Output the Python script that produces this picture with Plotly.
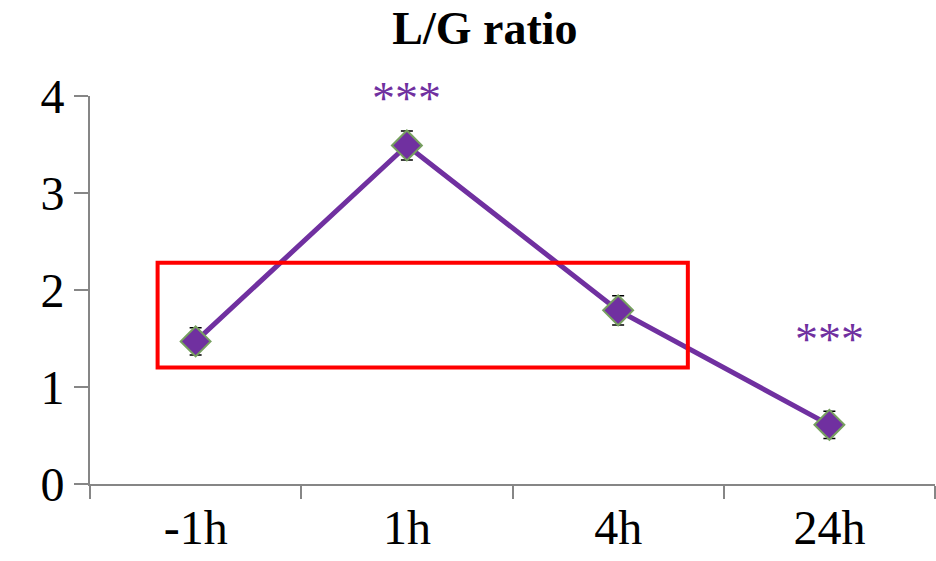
import plotly.graph_objects as go

categories = ["-1h", "1h", "4h", "24h"]
ratio = [1.47, 3.49, 1.79, 0.61]
err = [0.14, 0.15, 0.15, 0.14]
stars = ["", "***", "", "***"]
star_y = [None, 3.97, None, 1.49]
box_x = [-0.18, 2.33]
box_y = [1.2, 2.28]
y_ticks = [0, 1, 2, 3, 4]

PURPLE = "#7030A0"
GREEN = "#77A060"
AXIS = "#868686"
FONT = "Liberation Serif"

W, H = 936, 561

fig = go.Figure()
fig.add_trace(go.Scatter(
    x=categories, y=ratio, mode="lines+markers",
    line=dict(color=PURPLE, width=5),
    marker=dict(symbol="diamond", size=23, color=PURPLE,
                line=dict(color=GREEN, width=2)),
    error_y=dict(type="data", array=err, visible=True,
                 color="black", thickness=1.5, width=6),
    showlegend=False,
))

fig.add_shape(type="rect", xref="x", yref="y",
              x0=box_x[0], x1=box_x[1], y0=box_y[0], y1=box_y[1],
              line=dict(color="#FF0000", width=4), fillcolor="rgba(0,0,0,0)")

for c, s, sy in zip(categories, stars, star_y):
    if s:
        fig.add_annotation(x=c, y=sy, text=s, showarrow=False,
                           xref="x", yref="y", yanchor="middle",
                           font=dict(family=FONT, size=46, color=PURPLE))

fig.update_layout(
    width=W, height=H,
    margin=dict(l=90, r=1, t=96, b=77),
    paper_bgcolor="white", plot_bgcolor="white",
    font=dict(family=FONT, color="black", size=48),
    title=dict(text="<b>L/G ratio</b>", x=485 / W, xref="container",
               y=1 - 28 / H, yref="container", yanchor="middle",
               xanchor="center", font=dict(family=FONT, size=46, color="black")),
)
fig.update_xaxes(
    type="category", range=[-0.5, 3.5], tickson="boundaries",
    ticks="outside", ticklen=13, tickwidth=2, tickcolor=AXIS,
    showline=True, linecolor=AXIS, linewidth=2, showgrid=False,
    tickfont=dict(family=FONT, size=48, color="black"), zeroline=False,
    automargin=False,
)
fig.update_yaxes(
    range=[0, 4], tickvals=y_ticks, ticks="outside", ticklen=14,
    tickwidth=2, tickcolor=AXIS, showline=True, linecolor=AXIS,
    linewidth=2, showgrid=False, zeroline=False,
    tickfont=dict(family=FONT, size=48, color="black"),
    automargin=False,
)

fig.write_html("out.html", config={"displayModeBar": False},
               post_script="document.body.style.margin='0';document.body.style.overflow='hidden';")
